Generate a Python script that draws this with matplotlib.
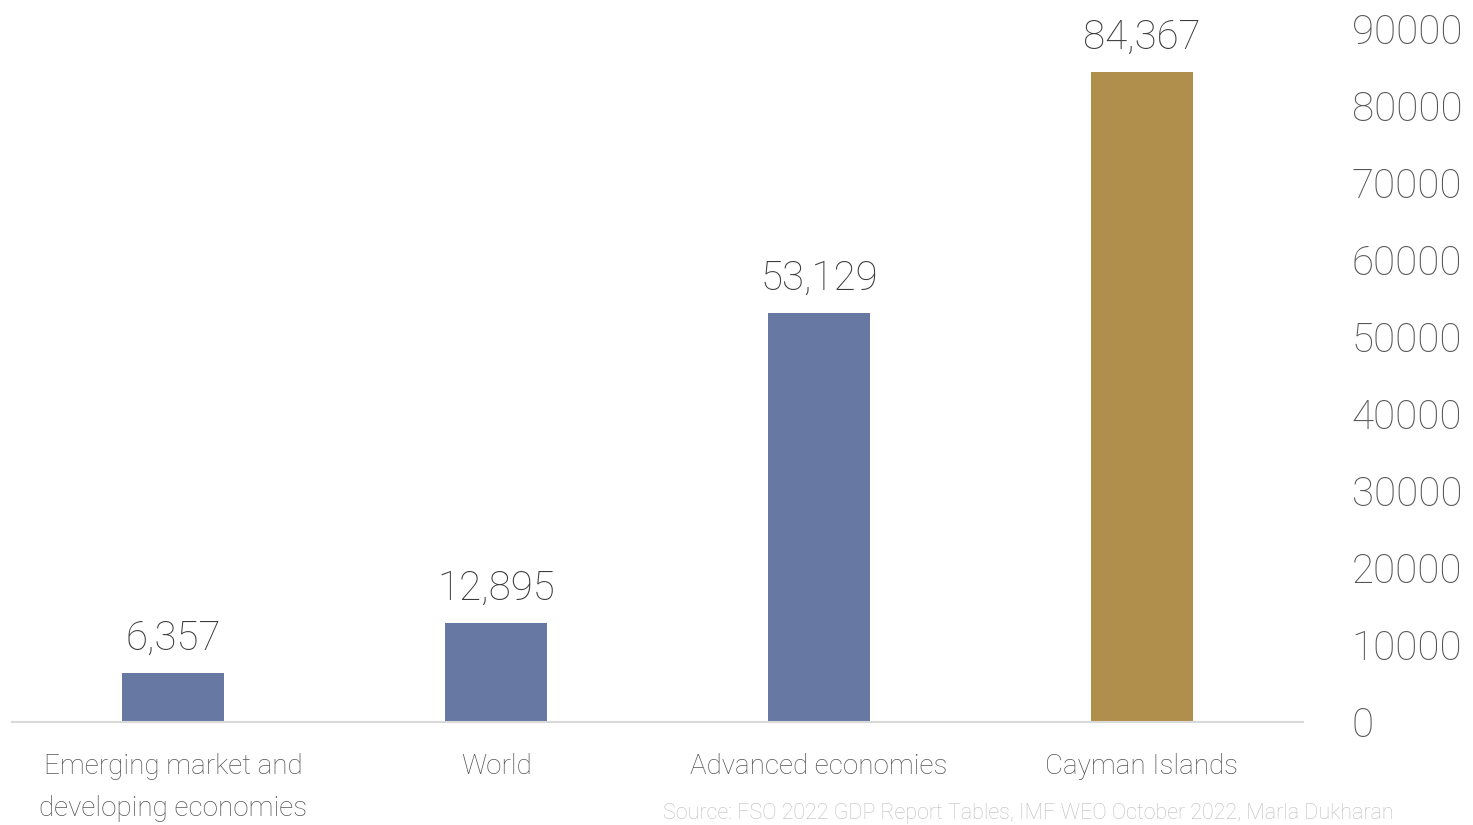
import matplotlib
matplotlib.use('Agg')
import matplotlib.pyplot as plt

# GDP per capita, US$
categories = ['Emerging market and\ndeveloping economies', 'World',
              'Advanced economies', 'Cayman Islands']
values = [6357, 12895, 53129, 84367]
colors = ['#6779a3', '#6779a3', '#6779a3', '#b08f4c']
yticks = [0, 10000, 20000, 30000, 40000, 50000, 60000, 70000, 80000, 90000]
source = 'Source: FSO 2022 GDP Report Tables, IMF WEO October 2022, Marla Dukharan'

plt.rcParams['font.family'] = ['Roboto', 'DejaVu Sans']

W, H = 1473, 825
fig = plt.figure(figsize=(W / 100, H / 100), dpi=100)
ax = fig.add_axes([12 / W, 1 - 722 / H, (1303 - 12) / W, (722 - 29) / H])

x = range(len(values))
ax.bar(x, values, width=0.316, color=colors, zorder=2)

# value labels above bars
for i, v in enumerate(values):
    ax.annotate(f'{v:,}', (i, v), xytext=(0, 11), textcoords='offset points',
                ha='center', va='bottom', fontsize=29, fontweight='light',
                color='#3a3a3a')

ax.set_xlim(-0.5, 3.5)
ax.set_ylim(0, 90000)
ax.set_xticks(list(x))
ax.set_xticklabels(categories, fontsize=20, fontweight='light',
                   color='#555555', linespacing=1.75)
ax.set_yticks(yticks)
ax.set_yticklabels([str(t) for t in yticks], fontsize=29,
                   fontweight='light', color='#555555')
ax.yaxis.tick_right()
ax.tick_params(axis='y', length=0, pad=35)
ax.tick_params(axis='x', length=0, pad=22)

for s in ['top', 'right', 'left']:
    ax.spines[s].set_visible(False)
ax.spines['bottom'].set_color('#d9d9d9')
ax.spines['bottom'].set_linewidth(1.5)

fig.text(663 / W, 1 / H, source, ha='left', va='bottom', fontsize=15.5,
         fontweight='light', color='#bfbfbf')

fig.savefig('out.png', dpi=100)
